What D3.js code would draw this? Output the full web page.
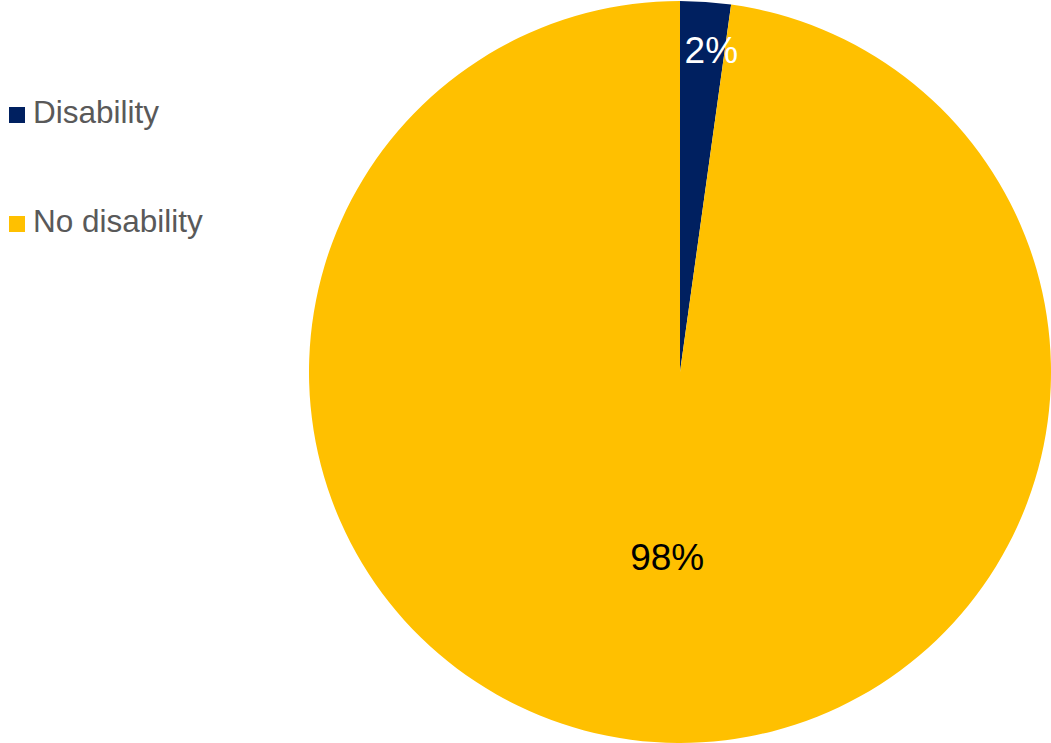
<!DOCTYPE html>
<html>
<head>
<meta charset="utf-8">
<script src="https://cdn.jsdelivr.net/npm/d3@7"></script>
<style>
  html, body { margin: 0; padding: 0; background: #fff; }
  svg { display: block; font-family: Arial, "Liberation Sans", sans-serif; }
</style>
</head>
<body>
<svg id="chart" width="1051" height="743"></svg>
<script>
// Share of respondents by disability status
const categories = ["Disability", "No disability"];
const shares = [0.022, 0.978];
const colors = ["#002060", "#FFC000"];
const labelColors = ["#ffffff", "#000000"];

const svg = d3.select("#chart");
const cx = 680, cy = 372, radius = 371;

const pie = d3.pie().sort(null).value(d => d.value);
const data = categories.map((c, i) => ({ name: c, value: shares[i], i }));
const arcs = pie(data);

const arc = d3.arc().innerRadius(0).outerRadius(radius);
const g = svg.append("g").attr("transform", `translate(${cx},${cy})`);

g.selectAll("path.slice")
  .data(arcs)
  .join("path")
  .attr("class", "slice")
  .attr("d", arc)
  .attr("fill", d => colors[d.data.i]);

// Value labels placed inside each slice
const fmt = d3.format(".0%");
const labelRadius = [radius * 0.87, radius * 0.50];
const labelShift = [9, 0];
g.selectAll("text.value")
  .data(arcs)
  .join("text")
  .attr("class", "value")
  .attr("transform", d => {
    const r = labelRadius[d.data.i];
    const a = (d.startAngle + d.endAngle) / 2;
    return `translate(${Math.sin(a) * r},${-Math.cos(a) * r})`;
  })
  .attr("text-anchor", "middle")
  .attr("dx", d => labelShift[d.data.i])
  .attr("dy", "0.36em")
  .attr("font-size", 37)
  .attr("fill", d => labelColors[d.data.i])
  .text(d => fmt(d.data.value));

// Legend
const legend = svg.append("g").attr("transform", "translate(9,0)");
const legendY = [107, 216];
const item = legend.selectAll("g.item")
  .data(data)
  .join("g")
  .attr("class", "item")
  .attr("transform", d => `translate(0,${legendY[d.i]})`);
item.append("rect")
  .attr("width", 16).attr("height", 16)
  .attr("fill", d => colors[d.i]);
item.append("text")
  .attr("x", 24).attr("y", 16)
  .attr("font-size", 31.5)
  .attr("fill", "#595959")
  .text(d => d.name);
</script>
</body>
</html>
